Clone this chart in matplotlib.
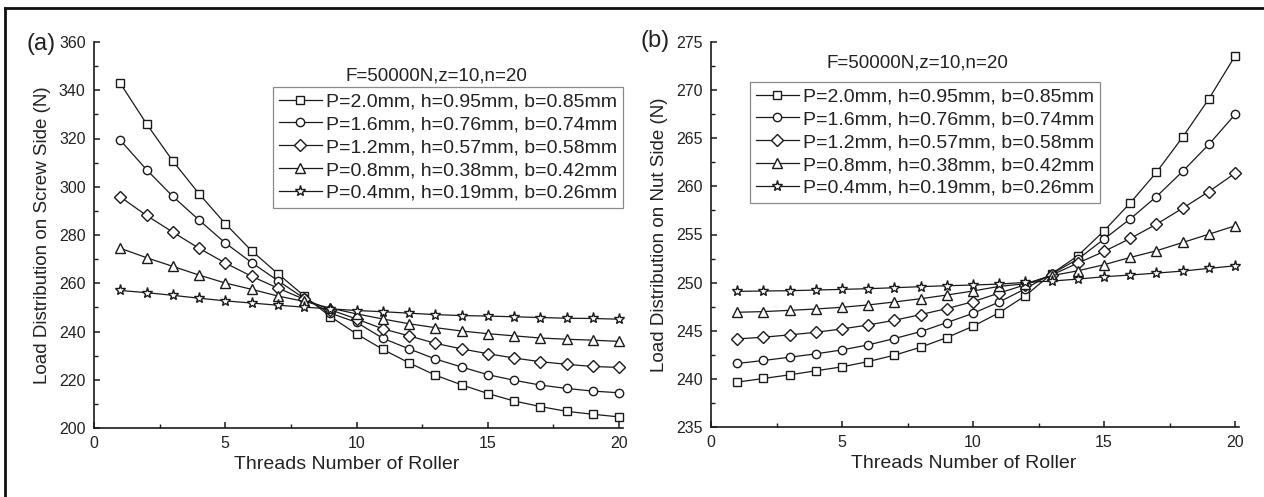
import matplotlib
matplotlib.use("Agg")
import matplotlib.pyplot as plt
from matplotlib.lines import Line2D
from matplotlib.ticker import MultipleLocator

plt.rcParams['font.family'] = ['Liberation Sans', 'DejaVu Sans']

threads = list(range(1, 21))

labels = [
    "P=2.0mm, h=0.95mm, b=0.85mm",
    "P=1.6mm, h=0.76mm, b=0.74mm",
    "P=1.2mm, h=0.57mm, b=0.58mm",
    "P=0.8mm, h=0.38mm, b=0.42mm",
    "P=0.4mm, h=0.19mm, b=0.26mm",
]
condition = "F=50000N,z=10,n=20"

# (a) screw side
screw_p20 = [342.9, 326.1, 310.7, 297.1, 284.7, 273.5, 264.0, 254.8, 246.2, 239.0,
             232.6, 227.0, 221.9, 217.9, 214.3, 211.2, 208.9, 206.9, 205.7, 204.6]
screw_p16 = [319.3, 307.1, 296.0, 286.2, 276.7, 268.6, 261.1, 253.8, 247.6, 243.8,
             237.2, 232.8, 228.6, 225.3, 222.1, 219.8, 217.8, 216.4, 215.3, 214.6]
screw_p12 = [295.8, 288.1, 281.2, 274.5, 268.4, 262.9, 258.0, 253.4, 249.0, 245.2,
             241.1, 238.2, 235.1, 232.8, 230.8, 229.0, 227.5, 226.4, 225.5, 225.1]
screw_p08 = [274.5, 270.6, 267.0, 263.4, 260.1, 257.5, 254.7, 252.5, 249.7, 247.3,
             245.2, 243.2, 241.6, 240.2, 239.1, 238.2, 237.3, 236.8, 236.4, 235.9]
screw_p04 = [257.0, 256.1, 255.0, 253.8, 252.7, 251.8, 250.9, 250.1, 249.4, 248.7,
             248.2, 247.6, 247.0, 246.6, 246.4, 246.1, 245.8, 245.5, 245.4, 245.1]

# (b) nut side
nut_p20 = [239.66, 240.04, 240.42, 240.84, 241.25, 241.80, 242.46, 243.29, 244.29, 245.47,
           246.88, 248.64, 250.92, 252.79, 255.38, 258.28, 261.46, 265.12, 269.09, 273.55]
nut_p16 = [241.60, 241.91, 242.25, 242.60, 243.01, 243.53, 244.19, 244.91, 245.85, 246.81,
           247.99, 249.37, 250.92, 252.44, 254.52, 256.62, 258.94, 261.56, 264.36, 267.47]
nut_p12 = [244.15, 244.33, 244.57, 244.84, 245.19, 245.60, 246.09, 246.68, 247.30, 248.02,
           248.92, 249.78, 250.79, 252.03, 253.24, 254.59, 256.07, 257.73, 259.46, 261.36]
nut_p08 = [246.92, 246.99, 247.12, 247.26, 247.44, 247.68, 247.99, 248.33, 248.71, 249.13,
           249.61, 249.89, 250.72, 251.23, 251.86, 252.62, 253.31, 254.17, 255.03, 255.90]
nut_p04 = [249.09, 249.13, 249.16, 249.23, 249.30, 249.37, 249.47, 249.58, 249.68, 249.75,
           249.85, 250.03, 250.16, 250.37, 250.61, 250.79, 250.99, 251.20, 251.48, 251.75]

markers = ['s', 'o', 'D', '^', '*']
msizes = [5.5, 6.0, 6.5, 7.0, 8.0]
ink = '#1a1a1a'

W, H = 1264, 497
fig = plt.figure(figsize=(W / 100, H / 100), dpi=100)

def px_axes(x0, x1, ytop, ybot):
    return [x0 / W, 1 - ybot / H, (x1 - x0) / W, (ybot - ytop) / H]

axA = fig.add_axes(px_axes(94, 623, 42, 428))
axB = fig.add_axes(px_axes(711, 1239, 42, 427))

def style(ax, ylim, ymaj, ymin, ylabel):
    ax.set_xlim(0, 20.15)
    ax.set_ylim(*ylim)
    ax.xaxis.set_major_locator(MultipleLocator(5))
    ax.xaxis.set_minor_locator(MultipleLocator(2.5))
    ax.yaxis.set_major_locator(MultipleLocator(ymaj))
    ax.yaxis.set_minor_locator(MultipleLocator(ymin))
    for s in ['top', 'right']:
        ax.spines[s].set_visible(False)
    for s in ['left', 'bottom']:
        ax.spines[s].set_linewidth(1.2)
        ax.spines[s].set_color(ink)
    ax.tick_params(which='major', direction='in', length=4.5, width=1.1, color=ink,
                   labelsize=11.5, labelcolor='#222222', pad=6)
    ax.tick_params(which='minor', direction='in', length=3, width=1.0, color=ink)
    ax.set_xlabel("Threads Number of Roller", fontsize=14, color='#222222')
    ax.set_ylabel(ylabel, fontsize=13.5, color='#222222')
    ax.xaxis.set_label_coords(0.478, -0.072)
    ax.yaxis.set_label_coords(-0.081, 0.5)

def draw(ax, series, legend_px, title_px):
    handles = []
    for vals, m, ms, lab in zip(series, markers, msizes, labels):
        h, = ax.plot(threads, vals, color=ink, lw=0.9, marker=m, ms=ms,
                     mfc='white', mec=ink, mew=1.0, label=lab, clip_on=False)
        handles.append(h)
    leg = ax.legend(handles=handles, loc='upper left',
                    bbox_to_anchor=(legend_px[0] / W, 1 - legend_px[1] / H),
                    bbox_transform=fig.transFigure, borderaxespad=0,
                    fontsize=14, frameon=True, fancybox=False, framealpha=1,
                    edgecolor='#8a8a8a', labelspacing=0.27, handlelength=2.2,
                    handletextpad=0.2, borderpad=0.3)
    leg.get_frame().set_linewidth(0.9)
    for t in leg.get_texts():
        t.set_color('#222222')
    fig.text(title_px[0] / W, 1 - title_px[1] / H, condition, fontsize=13.5,
             ha='center', va='center', color='#222222')

style(axA, (200, 360), 20, 10, "Load Distribution on Screw Side (N)")
style(axB, (235, 275), 5, 2.5, "Load Distribution on Nut Side (N)")
draw(axA, [screw_p20, screw_p16, screw_p12, screw_p08, screw_p04], (273, 87), (436, 76))
draw(axB, [nut_p20, nut_p16, nut_p12, nut_p08, nut_p04], (750, 82), (917, 63))

fig.text(41 / W, 1 - 44 / H, "(a)", fontsize=17, ha='center', va='center', color='#222222')
fig.text(655 / W, 1 - 41 / H, "(b)", fontsize=17, ha='center', va='center', color='#222222')

# outer frame lines (top and left)
fig.add_artist(Line2D([5 / W, 1], [1 - 8 / H, 1 - 8 / H], transform=fig.transFigure,
                      color='#111111', lw=2.0))
fig.add_artist(Line2D([5 / W, 5 / W], [0, 1 - 8 / H], transform=fig.transFigure,
                      color='#111111', lw=2.0))

fig.savefig("out.png", dpi=100)
